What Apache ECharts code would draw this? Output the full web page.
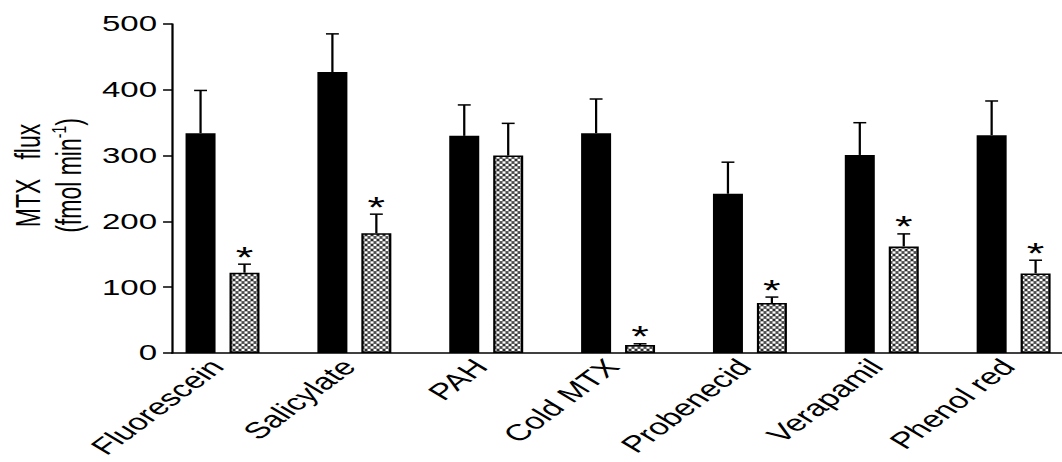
<!DOCTYPE html>
<html>
<head>
<meta charset="utf-8">
<script src="https://cdn.jsdelivr.net/npm/echarts@6/dist/echarts.min.js"></script>
<style>
  html, body { margin: 0; padding: 0; background: #fff; overflow: hidden; }
  #wrap { width: 1062px; height: 462px; overflow: hidden; }
  /* the figure is drawn narrow and widened horizontally */
  #chart { width: 708px; height: 462px; transform: scaleX(1.5); transform-origin: 0 0; }
</style>
</head>
<body>
<div id="wrap"><div id="chart"></div></div>
<script>
// MTX flux (fmol min-1), control vs. with inhibitor, mean and SEM
const categories = ['Fluorescein', 'Salicylate', 'PAH', 'Cold MTX', 'Probenecid', 'Verapamil', 'Phenol red'];
const controlFlux = [334, 427, 330, 334, 242, 301, 331];
const controlErr = [65, 58, 47, 52, 48, 49, 52];
const inhibitedFlux = [122, 182, 300, 12, 76, 162, 121];
const inhibitedErr = [13, 29, 49, 2, 9, 19, 20];
const significant = [1, 1, 0, 1, 1, 1, 1];
const yTickValues = [0, 100, 200, 300, 400, 500];

const FONT = "'Liberation Sans', Arial, Helvetica, sans-serif";
const BAR_W = 20;
const BAR_GAP_PX = 9.3;
const CAP_HALF = 4.3;

// cross-hatch fill for the inhibitor bars
function makeHatch() {
  const c = document.createElement('canvas');
  c.width = 8; c.height = 10;
  const g = c.getContext('2d');
  g.fillStyle = '#fff';
  g.fillRect(0, 0, 8, 10);
  g.strokeStyle = '#000';
  g.lineWidth = 0.9;
  for (let k = -4; k <= 4; k++) {
    g.beginPath(); g.moveTo(4 * k, 0); g.lineTo(4 * k + 8, 10); g.stroke();
    g.beginPath(); g.moveTo(4 * k, 0); g.lineTo(4 * k - 8, 10); g.stroke();
  }
  return c;
}
const hatch = makeHatch();

function errorSeries(values, errs, side, stars) {
  return {
    type: 'custom',
    xAxisIndex: 1,
    yAxisIndex: 1,
    silent: true,
    z: 5,
    data: values.map((v, i) => [i, v, errs[i], stars ? stars[i] : 0]),
    renderItem(params, api) {
      const i = api.value(0), v = api.value(1), e = api.value(2), star = api.value(3);
      const base = api.coord([i, v]);
      const top = api.coord([i, v + e]);
      const x = base[0] + side * (BAR_W + BAR_GAP_PX) / 2;
      const style = { stroke: '#000', lineWidth: 1.5 };
      const children = [
        { type: 'line', shape: { x1: x, y1: base[1], x2: x, y2: top[1] }, style },
        { type: 'line', shape: { x1: x - CAP_HALF, y1: top[1], x2: x + CAP_HALF, y2: top[1] }, style }
      ];
      if (star) {
        children.push({
          type: 'text',
          style: { text: '*', x: x, y: top[1] - 8, fill: '#000', font: '30px ' + FONT, align: 'center', verticalAlign: 'middle' }
        });
      }
      return { type: 'group', children };
    }
  };
}

const chart = echarts.init(document.getElementById('chart'), null, { renderer: 'svg', width: 708, height: 462 });

chart.setOption({
  backgroundColor: '#fff',
  animation: false,
  grid: [
    { left: 114.7, right: 0, top: 24, bottom: 109, outerBoundsMode: 'none', containLabel: false },
    { left: 104.4, right: -11.7, top: 24, bottom: 109, outerBoundsMode: 'none', containLabel: false }
  ],
  xAxis: [
    {
      gridIndex: 0, type: 'value', min: 0, max: 1,
      axisLine: { show: true, onZero: false, lineStyle: { color: '#000', width: 1.5 } },
      axisTick: { show: false }, axisLabel: { show: false }, splitLine: { show: false }
    },
    {
      gridIndex: 1, type: 'category', data: categories,
      axisLine: { show: false }, axisTick: { show: false }, splitLine: { show: false },
      axisLabel: {
        interval: 0, rotate: 48, margin: 5, padding: [0, 6, 0, 0],
        color: '#000', fontSize: 23, fontFamily: FONT
      }
    }
  ],
  yAxis: [
    {
      gridIndex: 0, type: 'value', min: 0, max: 500, interval: 100,
      axisLine: { show: true, onZero: false, lineStyle: { color: '#000', width: 1.5 } },
      axisTick: { show: true, inside: false, length: 6, lineStyle: { color: '#000', width: 1.5 } },
      axisLabel: {
        color: '#000', fontSize: 22, fontFamily: FONT, margin: 10,
        customValues: yTickValues
      },
      splitLine: { show: false },
      name: '{t|MTX\u00a0\u00a0\u00a0flux}\n{t|(fmol min}{s|-1}{t|)}',
      nameLocation: 'middle',
      nameRotate: 90,
      nameGap: 53,
      nameTextStyle: {
        color: '#000', fontFamily: FONT, fontSize: 23, padding: [0, 0, 0, 26],
        rich: {
          t: { fontSize: 23, fontFamily: FONT, color: '#000', lineHeight: 27 },
          s: { fontSize: 14, fontFamily: FONT, color: '#000', lineHeight: 27, verticalAlign: 'top' }
        }
      }
    },
    {
      gridIndex: 1, type: 'value', min: 0, max: 500, show: false,
      splitLine: { show: false }
    }
  ],
  series: [
    {
      name: 'Control', type: 'bar', xAxisIndex: 1, yAxisIndex: 1,
      data: controlFlux, barWidth: BAR_W, barGap: (BAR_GAP_PX / BAR_W * 100).toFixed(1) + '%',
      itemStyle: { color: '#000' }
    },
    {
      name: 'Inhibitor', type: 'bar', xAxisIndex: 1, yAxisIndex: 1,
      data: inhibitedFlux, barWidth: BAR_W,
      itemStyle: {
        color: { image: hatch, repeat: 'repeat', imageWidth: 8, imageHeight: 10 },
        borderColor: '#000', borderWidth: 1.5
      }
    },
    errorSeries(controlFlux, controlErr, -1, null),
    errorSeries(inhibitedFlux, inhibitedErr, 1, significant)
  ]
});
</script>
</body>
</html>
